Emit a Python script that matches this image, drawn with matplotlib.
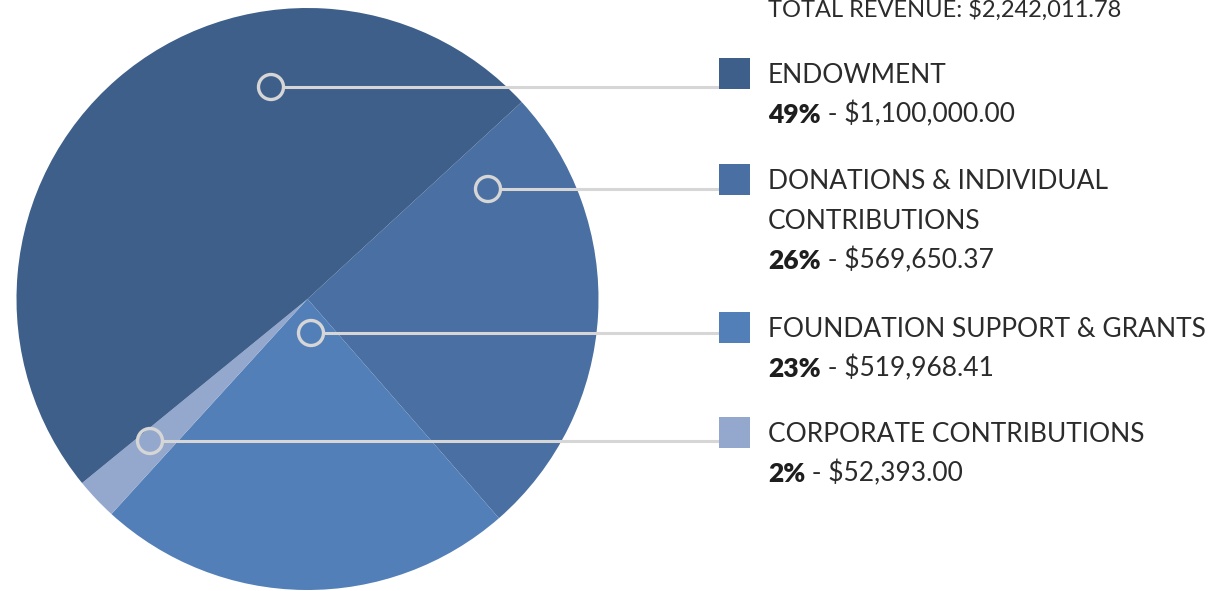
import matplotlib.pyplot as plt
from matplotlib.patches import Circle, Rectangle

# data
categories = ["ENDOWMENT", "DONATIONS & INDIVIDUAL\nCONTRIBUTIONS",
              "FOUNDATION SUPPORT & GRANTS", "CORPORATE CONTRIBUTIONS"]
amounts = [1100000.00, 569650.37, 519968.41, 52393.00]
percents = ["49%", "26%", "23%", "2%"]
total_label = "TOTAL REVENUE: $2,242,011.78"

colors = ["#3d5f8a", "#4a6fa2", "#537fb8", "#94a8cd"]

W, H = 1226, 591
fig = plt.figure(figsize=(W / 100, H / 100), dpi=100)
ax = fig.add_axes([0, 0, 1, 1])

# pie drawn clockwise: donations, foundation, corporate, endowment
order = [1, 2, 3, 0]
cx, cy, r = 307.5, H - 299, 291
ax.pie([amounts[i] for i in order], colors=[colors[i] for i in order],
       startangle=42.6, counterclock=False, center=(cx, cy), radius=r,
       wedgeprops=dict(linewidth=0))

ax.set_xlim(0, W)
ax.set_ylim(0, H)
ax.set_aspect("equal")
ax.axis("off")

font = "Lato"
txt_color = "#2b2b2b"
line_color = "#d6d6d6"
fs = 19

# callout anchors (pixel coords from top) and legend rows (first baseline)
anchors = [(271, 87), (488, 189), (311, 333), (150, 441)]
row_base = [83, 189, 337, 442]
sq_x, sq_size = 719, 31
text_x = 768
lh = 40

ax.text(text_x, H - 17, total_label, fontsize=17, family=font,
        color=txt_color, va="baseline", ha="left")

for i, cat in enumerate(categories):
    px, py = anchors[i]
    circ_r = 12.5
    ax.plot([px + circ_r, sq_x], [H - py, H - py], color=line_color, lw=2.2,
            solid_capstyle="butt", zorder=3)
    ax.add_patch(Circle((px, H - py), circ_r, facecolor="none",
                        edgecolor=line_color, lw=2.4, zorder=4))

    base = row_base[i]
    ax.add_patch(Rectangle((sq_x, H - (base + 6)), sq_size, sq_size,
                           facecolor=colors[i], edgecolor="none", zorder=4))

    lines = cat.split("\n")
    for k, ln in enumerate(lines):
        ax.text(text_x, H - (base + k * lh), ln, fontsize=fs, family=font,
                color=txt_color, va="baseline", ha="left")
    yb = H - (base + len(lines) * lh)
    bold = ax.text(text_x, yb, percents[i], fontsize=fs, family=font,
                   fontweight="heavy", color="#1e1e1e", va="baseline", ha="left")
    ax.annotate(f" - ${amounts[i]:,.2f}", xy=(1, 0), xycoords=bold,
                fontsize=fs, family=font, color=txt_color,
                va="bottom", ha="left")

fig.savefig("out.png", dpi=100, facecolor="white")
